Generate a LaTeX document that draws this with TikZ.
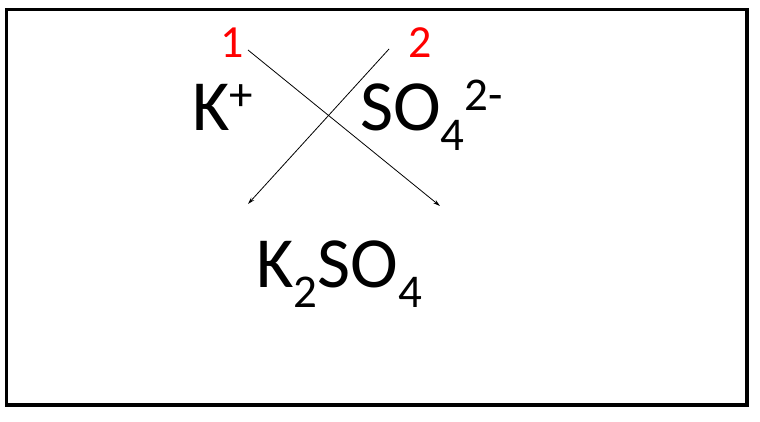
\documentclass[tikz,border=0pt]{standalone}
\usepackage{fontspec}
\setmainfont{Carlito}
\usetikzlibrary{arrows.meta}
\newcommand\bigtxt{\fontsize{72}{86}\selectfont}
\newcommand\smalltxt{\fontsize{47}{54}\selectfont}
\newcommand\chsub[1]{\raisebox{-20pt}{\smalltxt #1}}
\newcommand\chsup[1]{\raisebox{20pt}{\smalltxt #1}}
\tikzset{
  ion/.style={anchor=base west, inner sep=0pt, font=\bigtxt},
  num/.style={anchor=base west, inner sep=0pt, text=red, font=\fontsize{46}{54}\selectfont},
  cross/.style={line width=0.8pt, -{Stealth[length=7pt,width=4pt]}},
  frame/.style={draw=black, line width=3.5pt}
}
\begin{document}
\begin{tikzpicture}[x=1pt,y=-1pt]
\useasboundingbox (0,0) rectangle (760,421);
\draw[frame] (6.5,9.5) rectangle (747,405);
\node[num] (n1) at (220,57) {1};
\node[num] (n2) at (408,57) {2};
\node[ion] (k) at (192,130) {K\chsup{+}};
\node[ion] (so) at (360,130) {SO\chsub{4}\chsup{2-}};
\node[ion] (prod) at (256,287) {K\chsub{2}SO\chsub{4}};
\coordinate (a1s) at (248,50);
\coordinate (a1e) at (440,206);
\coordinate (a2s) at (389,49);
\coordinate (a2e) at (248,204);
\draw[cross] (a1s) -- (a1e);
\draw[cross] (a2s) -- (a2e);
\end{tikzpicture}
\end{document}
